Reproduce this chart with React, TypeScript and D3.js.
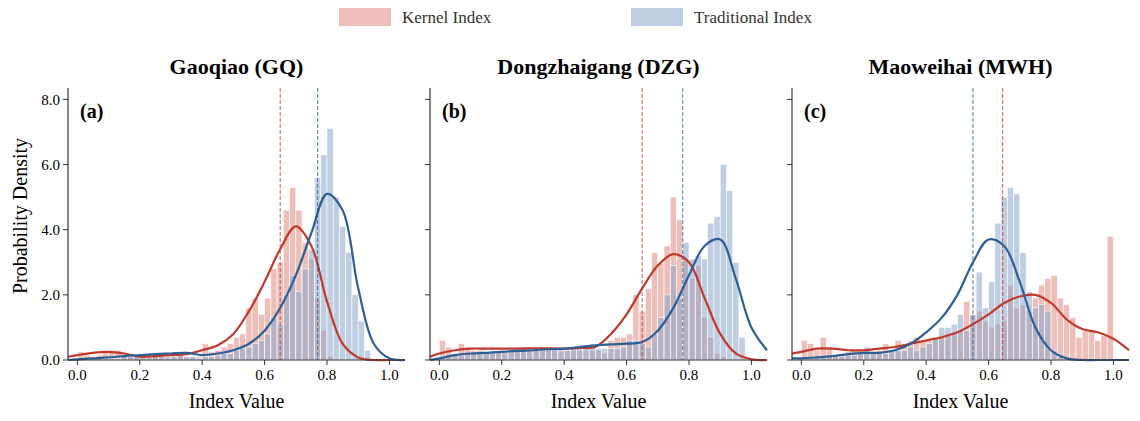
import * as d3 from 'd3';

const binStarts = d3.range(50).map((i) => i * 0.02);

// histogram heights per 0.02 bin (0.00 .. 0.98)
const kernelA = [0.25,0.15,0.1,0.15,0.3,0.25,0.3,0.15,0.1,0.1, 0.1,0.05,0.1,0.15,0.05,0.2,0.15,0.1,0.1,0.1, 0.5,0.25,0.3,0.4,0.5,0.7,0.8,1.6,1.9,1.4, 1.9,2.8,3.0,4.6,5.3,4.6,3.6,3.1,1.9,0.9, 0.1,0,0,0,0,0,0,0,0,0];
const tradA = [0,0,0.05,0.05,0.05,0.05,0.05,0.1,0.1,0.1, 0.1,0.1,0.1,0.1,0.1,0.1,0.2,0.1,0.1,0.05, 0.1,0.1,0.15,0.2,0.2,0.3,0.35,0.4,0.5,0.6, 0.8,1.3,1.1,2.0,2.6,2.1,2.8,3.4,5.6,6.3, 7.1,5.0,4.1,3.3,2.0,1.2,0.3,0,0,0];
const kernelB = [0.6,0.4,0.2,0.5,0.4,0.3,0.3,0.25,0.3,0.3, 0.3,0.25,0.35,0.35,0.35,0.3,0.3,0.3,0.3,0.25, 0.3,0.3,0.3,0.3,0.3,0.3,0.2,0.6,0.7,0.7, 0.8,2.0,1.5,2.2,3.3,3.0,3.5,5.0,4.3,3.1, 2.5,2.9,1.3,0.7,0.2,0.1,0,0,0,0];
const tradB = [0.1,0.1,0.15,0.15,0.2,0.2,0.2,0.25,0.25,0.25, 0.3,0.3,0.3,0.3,0.3,0.3,0.3,0.35,0.35,0.35, 0.3,0.35,0.4,0.4,0.5,0.35,0.35,0.35,0.35,0.4, 0.6,0.6,0.5,0.4,0.8,1.3,2.0,2.9,1.9,3.6, 3.1,3.2,3.1,4.2,4.4,6.0,5.2,3.0,0.7,0];
const kernelC = [0.6,0.5,0.3,0.7,0.4,0.15,0.2,0.25,0.3,0.3, 0.3,0.25,0.3,0.5,0.3,0.6,0.4,0.6,0.7,0.6, 0.6,0.7,0.7,0.8,0.8,0.9,1.8,1.4,1.5,1.2, 1.0,1.1,1.2,2.3,1.6,1.7,1.5,1.9,2.3,2.5, 2.6,1.9,1.7,1.3,0.7,0.9,0.9,0.6,0.75,3.8];
const tradC = [0.05,0.05,0.1,0.1,0.1,0.15,0.1,0.15,0.15,0.2, 0.4,0.2,0.2,0.2,0.3,0.3,0.3,0.4,0.3,0.4, 0.5,0.7,1.0,1.0,1.1,1.4,0.9,1.4,2.7,1.6, 2.4,4.2,5.0,5.3,5.1,3.3,2.1,1.6,1.7,1.5, 0.3,0.1,0,0,0,0,0,0,0,0];

// density curve samples
const curveX = [-0.03,0,0.05,0.1,0.15,0.2,0.25,0.3,0.35,0.4,0.45,0.5,0.55,0.6,0.65,0.7,0.75,0.8,0.85,0.9,0.95,1.0,1.05];
const kdeKernelA = [0.1,0.15,0.22,0.25,0.2,0.1,0.12,0.15,0.18,0.3,0.45,0.8,1.5,2.4,3.4,4.1,3.5,1.8,0.5,0.08,0,0,0];
const kdeTradA = [0,0.02,0.05,0.08,0.12,0.15,0.18,0.2,0.22,0.15,0.2,0.3,0.5,0.9,1.6,2.6,3.9,5.1,4.6,2.2,0.5,0.05,0];
const kdeKernelB = [0.1,0.2,0.3,0.35,0.35,0.35,0.35,0.36,0.36,0.35,0.37,0.4,0.8,1.4,2.2,2.9,3.25,3.0,1.9,0.8,0.2,0.02,0];
const kdeTradB = [0,0.05,0.15,0.2,0.22,0.25,0.28,0.3,0.33,0.35,0.4,0.45,0.48,0.5,0.55,0.9,1.6,2.6,3.5,3.7,2.5,1.0,0.3];
const kdeKernelC = [0.2,0.25,0.35,0.35,0.3,0.3,0.35,0.4,0.5,0.6,0.7,0.85,1.1,1.4,1.75,1.95,2.0,1.75,1.25,0.95,0.85,0.65,0.3];
const kdeTradC = [0.05,0.05,0.08,0.12,0.18,0.22,0.22,0.3,0.5,0.85,1.3,2.0,3.0,3.7,3.5,2.4,1.0,0.3,0.05,0,0,0,0];

const panels = [
  { title: 'Gaoqiao (GQ)', tag: '(a)', kernel: kernelA, trad: tradA, kdeK: kdeKernelA, kdeT: kdeTradA, meanK: 0.65, meanT: 0.77, left: 60 },
  { title: 'Dongzhaigang (DZG)', tag: '(b)', kernel: kernelB, trad: tradB, kdeK: kdeKernelB, kdeT: kdeTradB, meanK: 0.65, meanT: 0.78, left: 422 },
  { title: 'Maoweihai (MWH)', tag: '(c)', kernel: kernelC, trad: tradC, kdeK: kdeKernelC, kdeT: kdeTradC, meanK: 0.645, meanT: 0.55, left: 784 },
];

const yTicks = [0, 2, 4, 6, 8];
const xTicks = [0, 0.2, 0.4, 0.6, 0.8, 1.0];

const RED_BAR = '#e08a80';
const BLUE_BAR = '#8aa6c8';
const RED_LINE = '#c0392b';
const BLUE_LINE = '#2b5f97';
const FONT = '"Liberation Serif", "DejaVu Serif", serif';

const W = 337;
const top = 80;
const bottom = 352;

function Panel({ p }: { p: (typeof panels)[number] }) {
  const x = d3.scaleLinear().domain([-0.03, 1.05]).range([0, W]);
  const y = d3.scaleLinear().domain([0, 8.35]).range([bottom - top, 0]);
  const h = bottom - top;
  const line = d3.line<number>().x((_, i) => x(curveX[i])).y((d) => y(Math.max(0, d))).curve(d3.curveCatmullRom.alpha(0.5));
  const bw = x(0.02) - x(0);
  const bars = (vals: number[], color: string) =>
    vals.map((v, i) =>
      v > 0 ? (
        <rect key={i} x={x(binStarts[i])} y={y(v)} width={bw} height={h - y(v)} fill={color} fillOpacity={0.55} stroke="#fff" strokeWidth={0.6} />
      ) : null,
    );
  return (
    <g transform={`translate(${p.left},${top})`} fontFamily={FONT}>
      <text x={W / 2} y={-14} textAnchor="middle" fontSize={22} fontWeight="bold">{p.title}</text>
      {bars(p.kernel, RED_BAR)}
      {bars(p.trad, BLUE_BAR)}
      <path d={line(p.kdeK) ?? ''} fill="none" stroke={RED_LINE} strokeWidth={2.2} />
      <path d={line(p.kdeT) ?? ''} fill="none" stroke={BLUE_LINE} strokeWidth={2.2} />
      <line x1={x(p.meanK)} x2={x(p.meanK)} y1={0} y2={h} stroke={RED_LINE} strokeWidth={1} strokeDasharray="4,2" opacity={0.8} />
      <line x1={x(p.meanT)} x2={x(p.meanT)} y1={0} y2={h} stroke={BLUE_LINE} strokeWidth={1} strokeDasharray="4,2" opacity={0.8} />
      <text x={12} y={30} fontSize={20} fontWeight="bold">{p.tag}</text>
      <line x1={0} x2={0} y1={0} y2={h} stroke="#333" strokeWidth={1.2} />
      <line x1={0} x2={W} y1={h} y2={h} stroke="#333" strokeWidth={1.2} />
      {yTicks.map((t) => (
        <g key={t} transform={`translate(0,${y(t)})`}>
          <line x1={-5} x2={0} stroke="#333" />
          {p.left === 60 && <text x={-8} dy="0.35em" textAnchor="end" fontSize={15}>{t.toFixed(1)}</text>}
        </g>
      ))}
      {xTicks.map((t) => (
        <g key={t} transform={`translate(${x(t)},${h})`}>
          <line y1={0} y2={5} stroke="#333" />
          <text y={20} textAnchor="middle" fontSize={15}>{t.toFixed(1)}</text>
        </g>
      ))}
      <text x={W / 2} y={h + 48} textAnchor="middle" fontSize={20}>Index Value</text>
    </g>
  );
}

export default function App() {
  return (
    <svg width={1124} height={413} style={{ display: 'block', background: '#fff' }}>
      <g fontFamily={FONT} fontSize={17}>
        <rect x={331} y={0} width={52} height={18} fill={RED_BAR} fillOpacity={0.55} />
        <text x={394} y={15} fill="#333">Kernel Index</text>
        <rect x={623} y={0} width={52} height={18} fill={BLUE_BAR} fillOpacity={0.55} />
        <text x={686} y={15} fill="#333">Traditional Index</text>
        <text transform="translate(19,208) rotate(-90)" textAnchor="middle" fontSize={20}>Probability Density</text>
      </g>
      {panels.map((p) => (
        <Panel key={p.tag} p={p} />
      ))}
    </svg>
  );
}
